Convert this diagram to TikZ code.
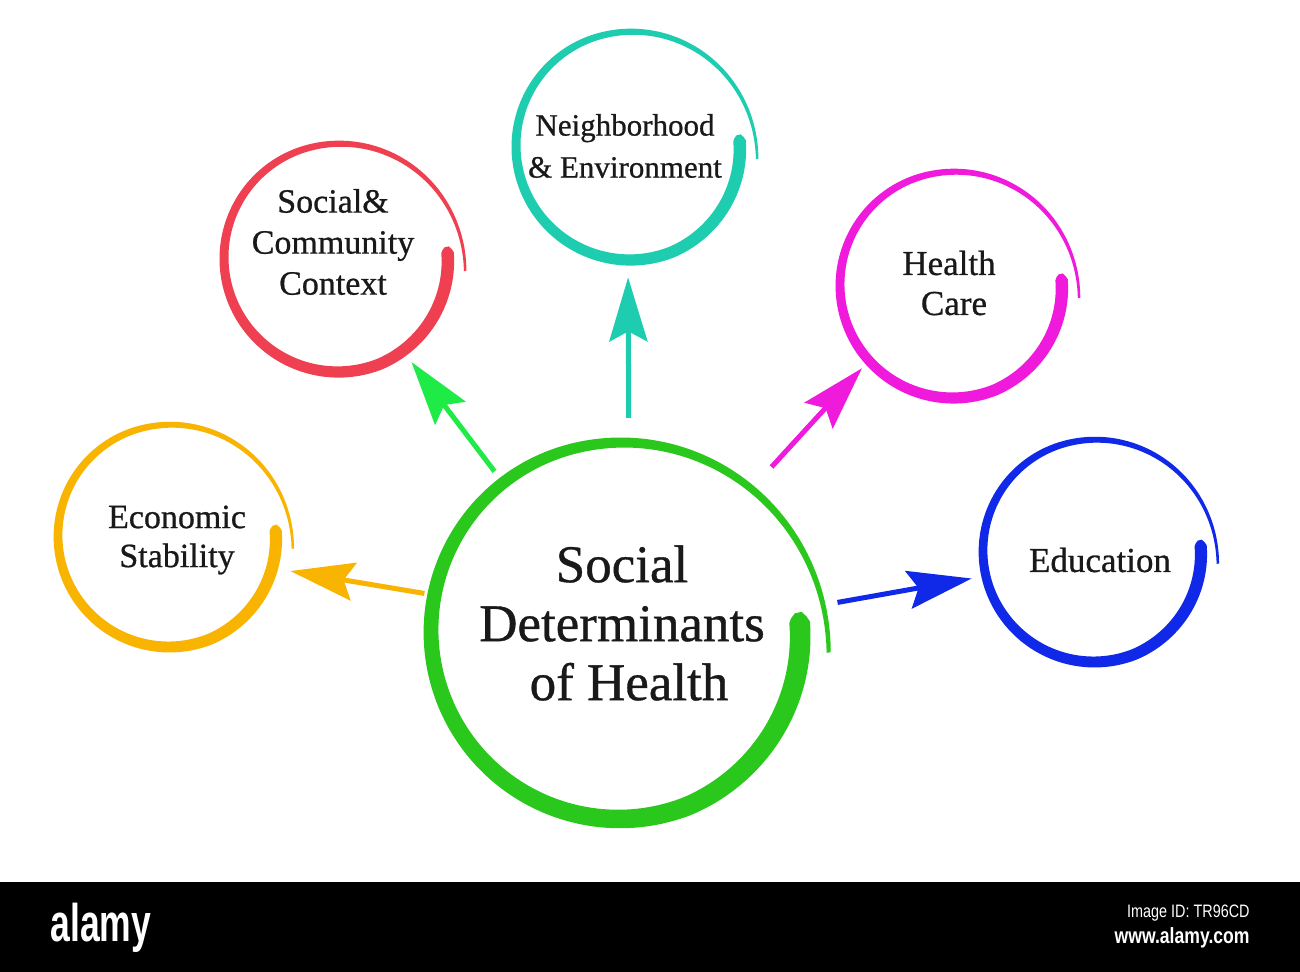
\documentclass[tikz,border=0pt]{standalone}
\usepackage{fontspec}
\setmainfont{Liberation Serif}[BoldFont={Liberation Serif}, BoldFeatures={FakeBold=0.7}]
\newfontfamily\wmfont{Liberation Sans}
\usetikzlibrary{arrows.meta}

\definecolor{sdhgreen}{RGB}{42,200,28}
\definecolor{arrgreen}{RGB}{30,235,70}
\definecolor{econorange}{RGB}{248,180,0}
\definecolor{socred}{RGB}{238,64,80}
\definecolor{nbhteal}{RGB}{30,204,176}
\definecolor{hcmagenta}{RGB}{240,26,220}
\definecolor{edublue}{RGB}{16,40,232}

\tikzset{
    declare function={
        ringa(\uu)=-6+372*\uu;
        ringr(\uu,\rr)=\rr*(1-0.04*max(0,1-\uu/0.2)+1.35*max(0,\uu-0.7)*max(0,\uu-0.7));
        ringw(\uu,\rr)=0.11*\rr*min(1,0.3+\uu/0.01)*(1-0.8*\uu*sqrt(\uu));
    },
    ringnode/.style={circle, draw=none, inner sep=0pt},
    txt/.style={align=center, inner sep=0pt, text=black!90},
    link/.style={line width=2.5pt, -{Stealth[length=32pt,width=19pt,inset=5pt]}},
}

% brush circle: centre x, centre y, radius, colour
\newcommand{\brushring}[4]{%
    \fill[#4] plot[domain=0:1, samples=240]
        ({#1+(ringr(\x,#3)+0.5*ringw(\x,#3))*cos(ringa(\x))},{#2+(ringr(\x,#3)+0.5*ringw(\x,#3))*sin(ringa(\x))})
        -- plot[domain=0:1, samples=240]
        ({#1+(ringr(1-\x,#3)-0.5*ringw(1-\x,#3))*cos(ringa(1-\x))},{#2+(ringr(1-\x,#3)-0.5*ringw(1-\x,#3))*sin(ringa(1-\x))})
        -- cycle;}

\begin{document}
\begin{tikzpicture}[x=0.5pt, y=-0.5pt]

    \useasboundingbox (0,0) rectangle (1300,972);
    \fill[white] (0,0) rectangle (1300,972);

    % rings
    \brushring{619}{631}{188}{sdhgreen}
    \brushring{169}{536}{111}{econorange}
    \brushring{338}{258}{114}{socred}
    \brushring{630}{146}{114}{nbhteal}
    \brushring{953}{285}{113}{hcmagenta}
    \brushring{1094}{551}{111}{edublue}

    \node[ringnode, minimum size=188pt] (sdh) at (619,631) {};
    \node[ringnode, minimum size=111pt] (econ) at (169,536) {};
    \node[ringnode, minimum size=114pt] (soc) at (338,258) {};
    \node[ringnode, minimum size=114pt] (nbh) at (630,146) {};
    \node[ringnode, minimum size=113pt] (hc) at (953,285) {};
    \node[ringnode, minimum size=111pt] (edu) at (1094,551) {};

    % labels
    \node[txt, font=\bfseries\fontsize{26.5}{29.5}\selectfont] (sdh-label) at (622,623) {Social\\Determinants\\\hspace*{7pt}of Health};
    \node[txt, font=\bfseries\fontsize{17}{19.5}\selectfont] (econ-label) at (177,540) {Economic\\Stability};
    \node[txt, font=\bfseries\fontsize{17}{20.5}\selectfont] (soc-label) at (333,242) {Social\&\\Community\\Context};
    \node[txt, font=\bfseries\fontsize{15.5}{21}\selectfont] (nbh-label) at (625,146) {Neighborhood\\\& Environment};
    \node[txt, font=\bfseries\fontsize{17.5}{20}\selectfont] (hc-label) at (949,283) {Health\\\hspace*{5pt}Care};
    \node[txt, font=\bfseries\fontsize{17.5}{20}\selectfont] (edu-label) at (1100,560) {Education};

    % arrows
    \draw[link, econorange, shorten <=4.9pt, shorten >=7.5pt] (sdh.169) -- (econ.-17);
    \draw[link, arrgreen, shorten <=7pt, shorten >=6.5pt] (sdh.128.6) -- (soc.-55);
    \draw[link, nbhteal, shorten <=12.5pt, shorten >=8.5pt] (sdh.87.6) -- (nbh.-91.3);
    \draw[link, hcmagenta, shorten <=17.8pt, shorten >=5pt] (sdh.47.2) -- (hc.-138.3);
    \draw[link, edublue, shorten <=16pt, shorten >=7pt] (sdh.7.8) -- (edu.-167.5);

    % bottom bar
    \fill[black] (0,882) rectangle (1300,972);
    \node[text=white, inner sep=0pt, anchor=base west, font=\wmfont\bfseries\fontsize{26.5}{26.5}\selectfont] (wm-logo) at (50,941) {\scalebox{0.67}[1]{alamy}};
    \node[text=white, inner sep=0pt, anchor=base east, font=\wmfont\fontsize{9}{9}\selectfont] (wm-id) at (1250,917) {\scalebox{0.8}[1]{Image ID: TR96CD}};
    \node[text=white, inner sep=0pt, anchor=base east, font=\wmfont\bfseries\fontsize{11}{11}\selectfont] (wm-url) at (1250,943) {\scalebox{0.8}[1]{www.alamy.com}};

\end{tikzpicture}
\end{document}
